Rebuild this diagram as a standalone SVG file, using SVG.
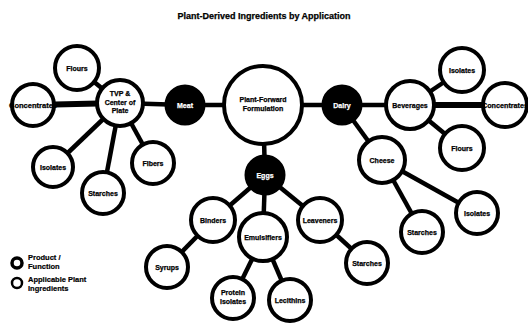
<svg xmlns="http://www.w3.org/2000/svg" width="528" height="323" viewBox="0 0 528 323">
<style>
.n{fill:#fff;stroke:#000;stroke-width:4}
.f{fill:#000;stroke:#000;stroke-width:3}
.t{font-family:"Liberation Sans",Arial,sans-serif;font-weight:bold;font-size:7px;text-anchor:middle;fill:#000;stroke:#000;stroke-width:0.25}
.w{fill:#fff;stroke:#fff}
.c line{stroke:#000;stroke-width:4.5}
.c line.k{stroke-width:6}
.lg{font-family:"Liberation Sans",Arial,sans-serif;font-weight:bold;font-size:7.5px;fill:#000;stroke:#000;stroke-width:0.2}
</style>
<rect width="528" height="323" fill="#fff"/>
<text x="264" y="19" class="t" style="font-size:9px">Plant-Derived Ingredients by Application</text>
<g class="c" id="connectors">
<line x1="77" y1="68" x2="120" y2="103"/>
<line class="k" x1="33" y1="105" x2="120" y2="103"/>
<line x1="120" y1="103" x2="185" y2="105"/>
<line x1="53" y1="167" x2="120" y2="103"/>
<line x1="103" y1="193" x2="120" y2="103"/>
<line x1="153" y1="163" x2="120" y2="103"/>
<line x1="185" y1="105" x2="263" y2="105"/>
<line x1="263" y1="105" x2="342" y2="105"/>
<line x1="263" y1="105" x2="265" y2="175"/>
<line x1="342" y1="105" x2="410" y2="105"/>
<line x1="410" y1="105" x2="462" y2="70"/>
<line class="k" x1="410" y1="105" x2="505" y2="105"/>
<line x1="410" y1="105" x2="462" y2="148"/>
<line x1="342" y1="105" x2="382" y2="160"/>
<line x1="382" y1="160" x2="422" y2="232"/>
<line x1="382" y1="160" x2="477" y2="213"/>
<line x1="265" y1="175" x2="213" y2="220"/>
<line x1="265" y1="175" x2="263" y2="237"/>
<line x1="265" y1="175" x2="320" y2="220"/>
<line x1="213" y1="220" x2="167" y2="267"/>
<line x1="263" y1="237" x2="233" y2="298"/>
<line x1="263" y1="237" x2="290" y2="300"/>
<line x1="320" y1="220" x2="367" y2="263"/>
</g>
<g id="pf"><circle class="n" cx="263" cy="105" r="39"/><text class="t" x="263" y="102">Plant-Forward</text><text class="t" x="263" y="111">Formulation</text></g>
<g id="meat"><circle class="f" cx="185" cy="105" r="19"/><text class="t w" x="185" y="107.5">Meat</text></g>
<g id="dairy"><circle class="f" cx="342" cy="105" r="19"/><text class="t w" x="342" y="107.5">Dairy</text></g>
<g id="eggs"><circle class="f" cx="265" cy="175" r="19"/><text class="t w" x="265" y="177.5">Eggs</text></g>
<g id="tvp"><circle class="n" cx="120" cy="103" r="23"/><text class="t" x="120" y="96">TVP &amp;</text><text class="t" x="120" y="104.5">Center of</text><text class="t" x="120" y="113">Plate</text></g>
<g id="flours1"><circle class="n" cx="77" cy="68" r="22"/><text class="t" x="77" y="70.5">Flours</text></g>
<g id="conc1"><circle class="n" cx="33" cy="105" r="21"/><text class="t" x="33" y="107.5" textLength="48" lengthAdjust="spacingAndGlyphs">Concentrates</text></g>
<g id="iso1"><circle class="n" cx="53" cy="167" r="20"/><text class="t" x="53" y="169.5">Isolates</text></g>
<g id="starch1"><circle class="n" cx="103" cy="193" r="21"/><text class="t" x="103" y="195.5">Starches</text></g>
<g id="fibers"><circle class="n" cx="153" cy="163" r="21"/><text class="t" x="153" y="165.5">Fibers</text></g>
<g id="bev"><circle class="n" cx="410" cy="105" r="24"/><text class="t" x="410" y="107.5">Beverages</text></g>
<g id="iso2"><circle class="n" cx="462" cy="70" r="22"/><text class="t" x="462" y="72.5">Isolates</text></g>
<g id="conc2"><circle class="n" cx="505" cy="105" r="22"/><text class="t" x="505" y="107.5" textLength="46" lengthAdjust="spacingAndGlyphs">Concentrates</text></g>
<g id="flours2"><circle class="n" cx="462" cy="148" r="22"/><text class="t" x="462" y="150.5">Flours</text></g>
<g id="cheese"><circle class="n" cx="382" cy="160" r="23"/><text class="t" x="382" y="162.5">Cheese</text></g>
<g id="starch2"><circle class="n" cx="422" cy="232" r="21"/><text class="t" x="422" y="234.5">Starches</text></g>
<g id="iso3"><circle class="n" cx="477" cy="213" r="21"/><text class="t" x="477" y="215.5">Isolates</text></g>
<g id="binders"><circle class="n" cx="213" cy="220" r="22"/><text class="t" x="213" y="222.5">Binders</text></g>
<g id="emuls"><circle class="n" cx="263" cy="237" r="24"/><text class="t" x="263" y="239.5">Emulsifiers</text></g>
<g id="leav"><circle class="n" cx="320" cy="220" r="22"/><text class="t" x="320" y="222.5">Leaveners</text></g>
<g id="syrups"><circle class="n" cx="167" cy="267" r="21"/><text class="t" x="167" y="269.5">Syrups</text></g>
<g id="protiso"><circle class="n" cx="233" cy="298" r="21"/><text class="t" x="233" y="295">Protein</text><text class="t" x="233" y="304">Isolates</text></g>
<g id="lecith"><circle class="n" cx="290" cy="300" r="21"/><text class="t" x="290" y="302.5">Lecithins</text></g>
<g id="starch3"><circle class="n" cx="367" cy="263" r="21"/><text class="t" x="367" y="265.5">Starches</text></g>
<g id="legend">
<circle cx="17" cy="263" r="5" fill="none" stroke="#000" stroke-width="3.5"/>
<text class="lg" x="28" y="260">Product /</text><text class="lg" x="28" y="269">Function</text>
<circle cx="17" cy="283" r="5" fill="none" stroke="#000" stroke-width="2.5"/>
<text class="lg" x="28" y="282">Applicable Plant</text><text class="lg" x="28" y="291">Ingredients</text>
</g>
</svg>
